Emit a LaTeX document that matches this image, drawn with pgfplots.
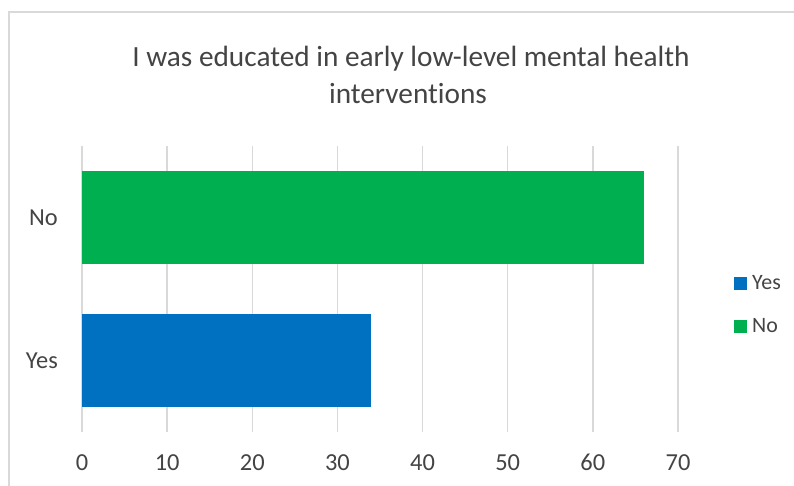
\documentclass[border=0pt]{standalone}
\usepackage{pgfplots}
\pgfplotsset{compat=1.18}
\usepackage{fontspec}
\setmainfont{Carlito}[Ligatures={NoCommon}]
\definecolor{barblue}{HTML}{0070C0}
\definecolor{bargreen}{HTML}{00B050}
\definecolor{gridgray}{HTML}{D9D9D9}
\definecolor{txt}{HTML}{444444}
\begin{document}
\begin{tikzpicture}
\useasboundingbox (0,0) rectangle (794bp,486bp);
\clip (0,0) rectangle (794bp,486bp);
\fill[white] (0,0) rectangle (794bp,486bp);
% chart frame (runs past the right and bottom edges)
\draw[gridgray, line width=1.3bp] (9bp,-20bp) -- (9bp,474bp) -- (820bp,474bp);
% title, two lines
\node[anchor=base, font=\fontsize{29.4}{35}\selectfont, text=txt, inner sep=0pt]
  at (411bp,419.3bp) {I was educated in early low-level mental health};
\node[anchor=base, font=\fontsize{29.4}{35}\selectfont, text=txt, inner sep=0pt]
  at (408bp,382bp) {interventions};
\begin{axis}[
  at={(82bp,54bp)}, anchor=south west,
  scale only axis, width=596bp, height=286bp,
  xmin=0, xmax=70, ymin=-0.5, ymax=1.5,
  xtick={0,10,...,70}, ytick={0,1}, yticklabels={Yes,No},
  xmajorgrids, ymajorgrids=false,
  major grid style={gridgray, line width=1.3bp},
  axis line style={draw=none}, major tick length=0pt,
  tick label style={font=\fontsize{24.5}{29}\selectfont, text=txt},
  xticklabel style={anchor=base, yshift=-38bp, inner sep=0pt},
  yticklabel style={anchor=east, xshift=-24bp, inner sep=0pt},
  /pgf/number format/assume math mode=true,
  xbar, bar width=0.65, bar shift=0pt,
  legend style={at={(1.089,0.444)}, anchor=west, draw=none, fill=none,
    font=\fontsize{22}{26}\selectfont, text=txt,
    row sep=27.5bp, column sep=5bp, nodes={inner sep=0pt}},
  legend cell align=left,
  legend image code/.code={\fill[#1] (0bp,-6.5bp) rectangle (13bp,6.5bp);},
  clip=false,
]
\addplot[draw=none, fill=barblue] coordinates {(34,0)};
\addplot[draw=none, fill=bargreen] coordinates {(66,1)};
\legend{Yes,No}
\end{axis}
\end{tikzpicture}
\end{document}
